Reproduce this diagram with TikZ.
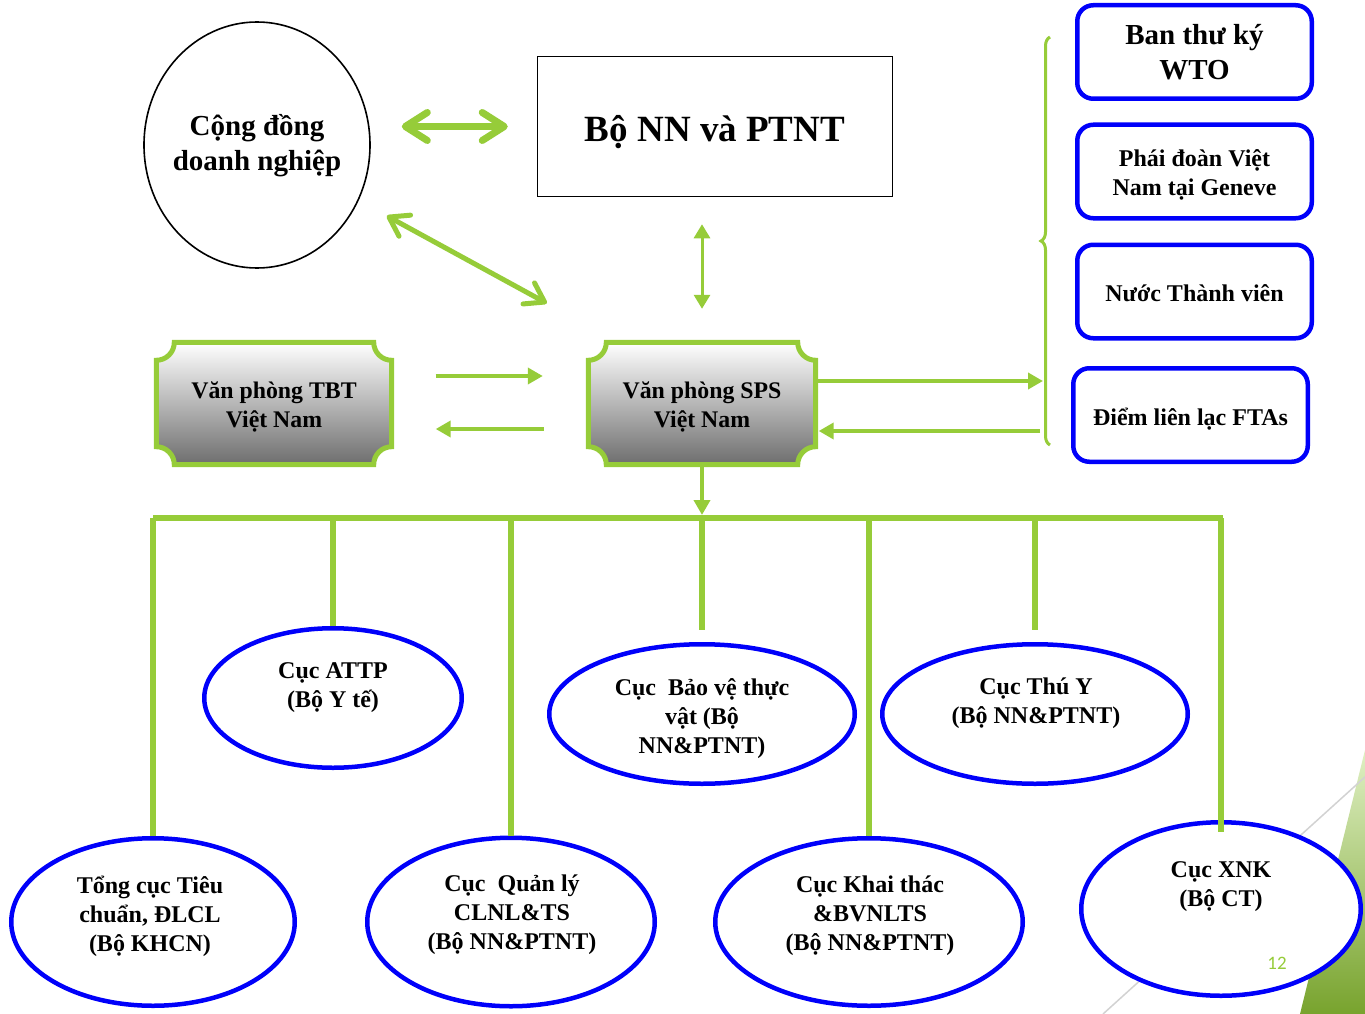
\documentclass[tikz,border=0pt]{standalone}
\usepackage{fontspec}
\setmainfont{Liberation Serif}
\newfontfamily\slidefont{Carlito}
\usetikzlibrary{shapes.geometric,arrows.meta,decorations.pathreplacing,backgrounds}

\definecolor{lgreen}{RGB}{150,204,57}
\definecolor{dblue}{RGB}{0,0,250}

\tikzset{
  oval/.style={ellipse, draw=dblue, line width=4.5pt, fill=white, inner sep=0pt},
  ovaltext/.style={align=center, font=\fontsize{24}{29}\selectfont\bfseries},
  sidebox/.style={rectangle, rounded corners=16pt, draw=dblue, line width=4.5pt,
    minimum width=234.5pt, minimum height=93.5pt},
  boxtext/.style={align=center, font=\fontsize{24}{29}\selectfont\bfseries},
  snipbox/.style={minimum height=122pt},
  sniptext/.style={align=center, font=\fontsize{23.8}{29}\selectfont\bfseries},
  flow/.style={draw=lgreen, line width=4.5pt, -{Triangle[length=15pt,width=16pt]}},
  vert/.style={draw=lgreen, line width=3pt,
    {Triangle[length=14pt,width=16pt]}-{Triangle[length=14pt,width=16pt]}},
  twoway/.style={draw=lgreen, line width=7pt,
    {Straight Barb[length=22pt,width=28pt,round]}-{Straight Barb[length=22pt,width=28pt,round]}},
  twowaythin/.style={draw=lgreen, line width=5pt,
    {Straight Barb[length=18pt,width=24pt,round]}-{Straight Barb[length=18pt,width=24pt,round]}},
  busline/.style={draw=lgreen, line width=5.5pt}
}

% frame with hollow corners round a node
\newcommand{\snipframe}[1]{%
  \shadedraw[top color=white, bottom color=black!57, draw=lgreen, line width=5pt]
    ([xshift=18pt]#1.north west) -- ([xshift=-18pt]#1.north east)
    arc[start angle=180, end angle=270, radius=18pt]
    -- ([yshift=18pt]#1.south east)
    arc[start angle=90, end angle=180, radius=18pt]
    -- ([xshift=18pt]#1.south west)
    arc[start angle=0, end angle=90, radius=18pt]
    -- ([yshift=-18pt]#1.north west)
    arc[start angle=270, end angle=360, radius=18pt]
    -- cycle;}

\begin{document}
\begin{tikzpicture}[x=1pt, y=1pt]
    \useasboundingbox (0,0) rectangle (1365,-1014);

    % slide corner
    \shade[top color=lgreen!30, bottom color=lgreen!80!black] (1365,-750) -- (1300,-1014) -- (1365,-1014) -- cycle;
    \draw[gray!35, line width=1.5pt] (1103,-1014) -- (1365,-777);

    % top
    \node[ellipse, draw, line width=1.6pt, minimum width=226pt, minimum height=246pt, inner sep=0pt] (cd) at (257,-145) {};
    \node[align=center, font=\fontsize{29}{35}\selectfont\bfseries] (cd-t) at (257,-145.5) {Cộng đồng\\doanh nghiệp};
    \node[draw, line width=1.5pt, minimum width=355pt, minimum height=140pt] (bo) at (715,-126.5) {};
    \node[font=\fontsize{37}{44}\selectfont\bfseries] (bo-t) at (715,-132.5) {Bộ NN và PTNT};

    % offices
    \node[snipbox, minimum width=235pt] (tbt) at (274,-403.5) {};
    \node[snipbox, minimum width=227pt] (sps) at (702,-403.5) {};
    \begin{scope}[on background layer]
        \snipframe{tbt}
        \snipframe{sps}
    \end{scope}
    \node[sniptext] (tbt-t) at (274,-406.5) {Văn phòng TBT\\Việt Nam};
    \node[sniptext] (sps-t) at (702,-406.5) {Văn phòng SPS\\Việt Nam};

    % right column
    \node[sidebox] (wto) at (1194.5,-52) {};
    \node[sidebox] (pd) at (1194.5,-171.5) {};
    \node[sidebox] (ntv) at (1194.5,-291.5) {};
    \node[sidebox] (dll) at (1190.5,-415) {};
    \node[boxtext, font=\fontsize{29}{35}\selectfont\bfseries] (wto-t) at (1194.5,-52.5) {Ban thư ký\\WTO};
    \node[boxtext] (pd-t) at (1194.5,-175) {Phái đoàn Việt\\Nam tại Geneve};
    \node[boxtext] (ntv-t) at (1194.5,-293.5) {Nước Thành viên};
    \node[boxtext] (dll-t) at (1190.5,-419) {Điểm liên lạc FTAs};
    \draw[lgreen, line width=3pt, decorate, decoration={brace, amplitude=9pt}] (1050,-445) -- (1050,-37);
    \coordinate (brin) at (1043,-381);
    \coordinate (brout) at (1040,-431);

    % agencies
    \node[oval, minimum width=257.5pt, minimum height=139.5pt] (attp) at (333,-698) {};
    \node[oval, minimum width=305.5pt, minimum height=139.5pt] (bvtv) at (702,-714) {};
    \node[oval, minimum width=305.5pt, minimum height=139.5pt] (ty) at (1035,-714) {};
    \node[oval, minimum width=283.5pt, minimum height=167.5pt] (tc) at (153,-922) {};
    \node[oval, minimum width=287.5pt, minimum height=168.5pt] (ql) at (511,-922) {};
    \node[oval, minimum width=307.5pt, minimum height=167.5pt] (kt) at (869,-922) {};
    \node[oval, minimum width=279.5pt, minimum height=173.5pt] (xnk) at (1221,-909) {};
    \node[ovaltext] (attp-t) at (333,-687.5) {Cục ATTP\\(Bộ Y tế)};
    \node[ovaltext] (bvtv-t) at (702,-718.5) {Cục\ \ Bảo vệ thực\\vật (Bộ\\NN\&PTNT)};
    \node[ovaltext] (ty-t) at (1036,-703.5) {Cục Thú Y\\(Bộ NN\&PTNT)};
    \node[ovaltext] (tc-t) at (150,-916) {Tổng cục Tiêu\\chuẩn, ĐLCL\\(Bộ KHCN)};
    \node[ovaltext] (ql-t) at (512,-915) {Cục\ \ Quản lý\\CLNL\&TS\\(Bộ NN\&PTNT)};
    \node[ovaltext] (kt-t) at (870,-916) {Cục Khai thác\\\&BVNLTS\\(Bộ NN\&PTNT)};
    \node[ovaltext] (xnk-t) at (1221,-886.5) {Cục XNK\\(Bộ CT)};
    \node[text=lgreen, font=\slidefont\fontsize{19}{20}\selectfont] (pgnum) at (1277,-963) {12};

    % links
    \draw[twoway, shorten <=31pt, shorten >=29pt] (cd.east |- bo.west) -- (bo.west);
    \draw[twowaythin, shorten <=32pt, shorten >=81.5pt] (cd) -- ([xshift=30pt]sps.north west);
    \draw[vert, shorten <=27pt, shorten >=33.5pt] (sps.north |- bo.south) -- (sps.north);
    \draw[flow, shorten <=44pt, shorten >=45.5pt] ([yshift=27.5pt]tbt.east) -- ([yshift=27.5pt]sps.west);
    \draw[flow, shorten <=44.5pt, shorten >=44pt] ([yshift=-25.5pt]sps.west) -- ([yshift=-25.5pt]tbt.east);
    \draw[flow] (sps.east |- brin) -- (brin);
    \draw[flow, shorten >=3pt] (brout) -- (sps.east |- brout);

    % bus
    \coordinate (busl) at (153,-518);
    \coordinate (busr) at (1223,-518);
    \draw[flow] (sps.south) -- (702,-515);
    \draw[busline] (busl) -- (busr);
    \draw[busline] (tc.north |- busl) -- (tc.north);
    \draw[busline] (attp.north |- busl) -- (attp.north);
    \draw[busline] (ql.north |- busl) -- (ql.north);
    \draw[busline, shorten >=12pt] (bvtv.north |- busl) -- (bvtv.north);
    \draw[busline] (kt.north |- busl) -- (kt.north);
    \draw[busline, shorten >=12pt] (ty.north |- busl) -- (ty.north);
    \draw[busline, shorten >=-12pt] (xnk.north |- busl) -- (xnk.north);
\end{tikzpicture}
\end{document}
